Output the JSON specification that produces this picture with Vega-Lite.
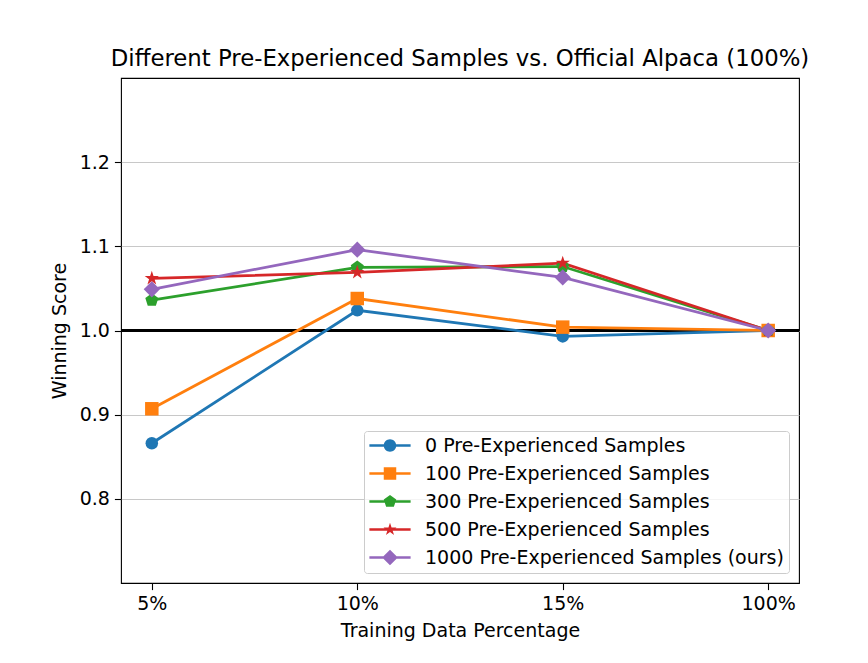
{
  "$schema": "https://vega.github.io/schema/vega-lite/v6.json",
  "width": 678,
  "height": 505,
  "autosize": "none",
  "padding": {"left": 121, "top": 78, "right": 69, "bottom": 80},
  "title": {
    "text": "Different Pre-Experienced Samples vs. Official Alpaca (100%)",
    "font": "DejaVu Sans",
    "fontSize": 22.8,
    "fontWeight": "normal",
    "color": "#000000",
    "anchor": "middle",
    "offset": 7
  },
  "data": {
    "values": [
      {"pct": "5%", "series": "0 Pre-Experienced Samples", "score": 0.866},
      {"pct": "10%", "series": "0 Pre-Experienced Samples", "score": 1.024},
      {"pct": "15%", "series": "0 Pre-Experienced Samples", "score": 0.993},
      {"pct": "100%", "series": "0 Pre-Experienced Samples", "score": 1.0},
      {"pct": "5%", "series": "100 Pre-Experienced Samples", "score": 0.907},
      {"pct": "10%", "series": "100 Pre-Experienced Samples", "score": 1.038},
      {"pct": "15%", "series": "100 Pre-Experienced Samples", "score": 1.004},
      {"pct": "100%", "series": "100 Pre-Experienced Samples", "score": 1.0},
      {"pct": "5%", "series": "300 Pre-Experienced Samples", "score": 1.036},
      {"pct": "10%", "series": "300 Pre-Experienced Samples", "score": 1.075},
      {"pct": "15%", "series": "300 Pre-Experienced Samples", "score": 1.076},
      {"pct": "100%", "series": "300 Pre-Experienced Samples", "score": 1.0},
      {"pct": "5%", "series": "500 Pre-Experienced Samples", "score": 1.062},
      {"pct": "10%", "series": "500 Pre-Experienced Samples", "score": 1.069},
      {"pct": "15%", "series": "500 Pre-Experienced Samples", "score": 1.080},
      {"pct": "100%", "series": "500 Pre-Experienced Samples", "score": 1.0},
      {"pct": "5%", "series": "1000 Pre-Experienced Samples (ours)", "score": 1.049},
      {"pct": "10%", "series": "1000 Pre-Experienced Samples (ours)", "score": 1.096},
      {"pct": "15%", "series": "1000 Pre-Experienced Samples (ours)", "score": 1.063},
      {"pct": "100%", "series": "1000 Pre-Experienced Samples (ours)", "score": 1.0}
    ]
  },
  "encoding": {
    "x": {
      "field": "pct",
      "type": "ordinal",
      "sort": ["5%", "10%", "15%", "100%"],
      "scale": {"type": "point", "padding": 0.15},
      "axis": {"title": "Training Data Percentage", "labelAngle": 0, "grid": false}
    },
    "y": {
      "field": "score",
      "type": "quantitative",
      "scale": {"domain": [0.7, 1.3], "nice": false, "zero": false},
      "axis": {"title": "Winning Score", "values": [0.8, 0.9, 1.0, 1.1, 1.2], "format": ".1f", "grid": true}
    },
    "color": {
      "field": "series",
      "type": "nominal",
      "sort": ["0 Pre-Experienced Samples", "100 Pre-Experienced Samples", "300 Pre-Experienced Samples", "500 Pre-Experienced Samples", "1000 Pre-Experienced Samples (ours)"],
      "scale": {"range": ["#1f77b4", "#ff7f0e", "#2ca02c", "#d62728", "#9467bd"]},
      "legend": {
        "title": null,
        "orient": "bottom-right",
        "offset": 10,
        "padding": 5,
        "strokeColor": "#cccccc",
        "fillColor": "rgba(255,255,255,0.8)",
        "cornerRadius": 3,
        "labelFont": "DejaVu Sans",
        "labelFontSize": 19,
        "labelColor": "#000000",
        "labelLimit": 500,
        "symbolSize": 156,
        "symbolStrokeWidth": 0,
        "symbolOffset": 11.5,
        "labelOffset": 25.5,
        "rowPadding": 8,
        "encode": {
          "symbols": {
            "update": {
              "shape": {"signal": "datum.value === '0 Pre-Experienced Samples' ? 'M-1,0A1,1 0 1,1 1,0A1,1 0 1,1 -1,0Z M-3.3,-0.22H3.3V0.22H-3.3Z' : datum.value === '100 Pre-Experienced Samples' ? 'M-1,-1H1V1H-1Z M-3.3,-0.22H3.3V0.22H-3.3Z' : datum.value === '300 Pre-Experienced Samples' ? 'M0,-1.05L1,-0.32L0.62,0.85L-0.62,0.85L-1,-0.32Z M-3.3,-0.22H3.3V0.22H-3.3Z' : datum.value === '500 Pre-Experienced Samples' ? 'M0,-1.1L0.247,-0.34L1.046,-0.34L0.4,0.13L0.647,0.89L0,0.42L-0.647,0.89L-0.4,0.13L-1.046,-0.34L-0.247,-0.34Z M-3.3,-0.22H3.3V0.22H-3.3Z' : 'M0,-1.25L1.25,0L0,1.25L-1.25,0Z M-3.3,-0.22H3.3V0.22H-3.3Z'"},
              "fill": {"scale": "color", "field": "value"},
              "size": {"value": 156},
              "strokeWidth": {"value": 0},
              "opacity": {"value": 1}
            }
          }
        }
      }
    }
  },
  "layer": [
    {
      "mark": {"type": "rule", "color": "#000000", "strokeWidth": 1.3},
      "encoding": {"y": {"datum": 1}, "x": {"value": 0}, "x2": {"value": 678}, "color": {"value": "#000000"}}
    },
    {
      "mark": {"type": "line", "strokeWidth": 2.8},
      "encoding": {"detail": {"field": "series"}}
    },
    {
      "mark": {"type": "point", "filled": true, "opacity": 1, "size": 156},
      "encoding": {
        "shape": {
          "field": "series",
          "type": "nominal",
          "sort": ["0 Pre-Experienced Samples", "100 Pre-Experienced Samples", "300 Pre-Experienced Samples", "500 Pre-Experienced Samples", "1000 Pre-Experienced Samples (ours)"],
          "scale": {"range": [
            "circle",
            "M-1.08,-1.08H1.08V1.08H-1.08Z",
            "M0,-1.1L1.046,-0.34L0.647,0.89L-0.647,0.89L-1.046,-0.34Z",
            "M0,-1.2L0.269,-0.371L1.141,-0.371L0.436,0.142L0.705,0.971L0,0.458L-0.705,0.971L-0.436,0.142L-1.141,-0.371L-0.269,-0.371Z",
            "M0,-1.3L1.3,0L0,1.3L-1.3,0Z"
          ]},
          "legend": null
        }
      }
    }
  ],
  "config": {
    "font": "DejaVu Sans",
    "view": {"stroke": "#000000", "strokeWidth": 1.1},
    "axis": {
      "domain": false,
      "labelFont": "DejaVu Sans",
      "labelFontSize": 19,
      "labelColor": "#000000",
      "titleFont": "DejaVu Sans",
      "titleFontSize": 19,
      "titleFontWeight": "normal",
      "titleColor": "#000000",
      "tickColor": "#000000",
      "tickSize": 6.6,
      "tickWidth": 1.1,
      "labelPadding": 5,
      "gridColor": "#c8c8c8",
      "gridWidth": 1.1
    },
    "axisX": {"titlePadding": 8},
    "axisY": {"titlePadding": 10}
  }
}
